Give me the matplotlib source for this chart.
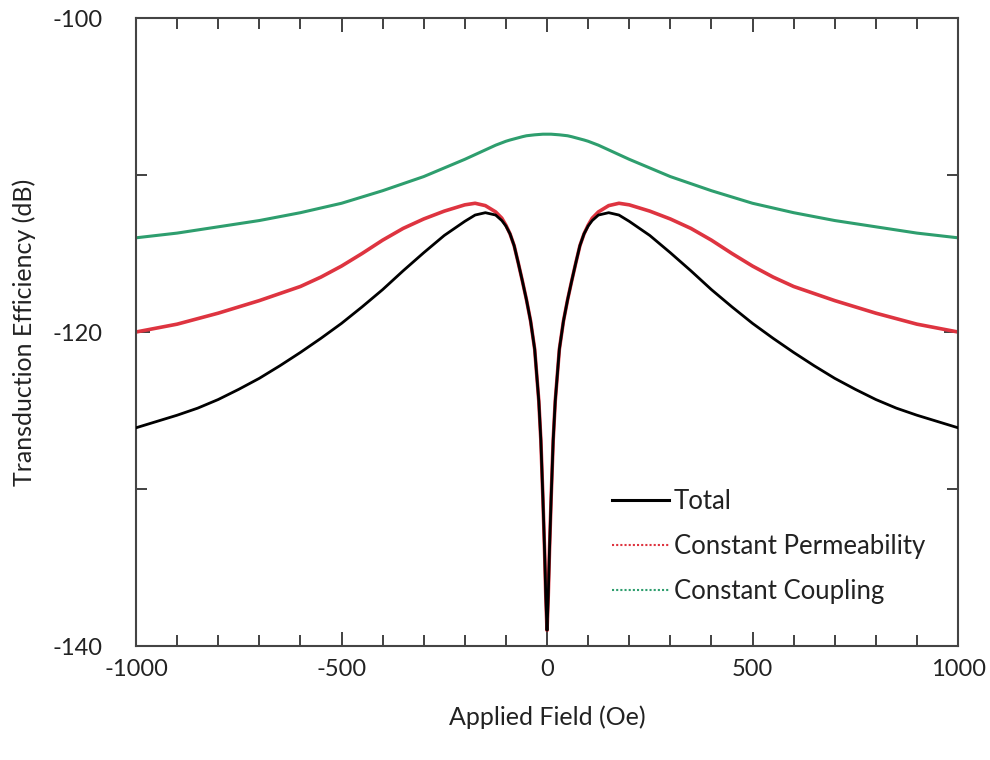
import matplotlib
matplotlib.use("Agg")
import matplotlib.pyplot as plt
from matplotlib.lines import Line2D
from matplotlib.ticker import MultipleLocator

plt.rcParams['font.family'] = ['Lato', 'DejaVu Sans']
plt.rcParams['axes.unicode_minus'] = False

# Applied field (Oe): negative half, mirrored about 0
half_x = [-1000, -950, -900, -850, -800, -750, -700, -650, -600, -550, -500, -450,
          -400, -350, -300, -250, -200,
          -175, -150, -125, -110, -100, -90, -80, -70, -60, -50, -40, -30, -20,
          -15, -10, -6, -3]
field = half_x + [0] + [-v for v in half_x[::-1]]

total_half = [-126.1, -125.7, -125.3, -124.85, -124.3, -123.65, -122.95, -122.15,
              -121.3, -120.4, -119.45, -118.4, -117.3, -116.1, -114.95, -113.85, -112.95,
              -112.55, -112.4, -112.55, -112.9, -113.25, -113.75, -114.5, -115.6, -116.75,
              -117.95, -119.3, -121.1, -124.4, -126.9, -130.6, -133.9, -136.8]
total = total_half + [-139.0] + total_half[::-1]

perm_half = [-120.0, -119.75, -119.5, -119.15, -118.8, -118.4, -118.0, -117.55,
             -117.1, -116.5, -115.8, -115.0, -114.15, -113.4, -112.8, -112.3, -111.9,
             -111.8, -111.95, -112.35, -112.75, -113.2, -113.75, -114.5, -115.6, -116.75,
             -117.95, -119.3, -121.1, -124.4, -126.9, -130.6, -133.9, -136.8]
perm = perm_half + [-139.0] + perm_half[::-1]

coup_half = [-114.0, -113.85, -113.7, -113.5, -113.3, -113.1, -112.9, -112.65,
             -112.4, -112.1, -111.8, -111.4, -111.0, -110.55, -110.1, -109.55, -109.0,
             -108.7, -108.4, -108.1, -107.95, -107.85, -107.77, -107.7, -107.63, -107.56,
             -107.5, -107.47, -107.44, -107.42, -107.41, -107.4, -107.4, -107.4]
coup = coup_half + [-107.4] + coup_half[::-1]

labels = ["Total", "Constant Permeability", "Constant Coupling"]
colors = ["#000000", "#de3440", "#2e9e6e"]

fig = plt.figure(figsize=(9.9, 7.6), dpi=100)
ax = fig.add_axes([0.1374, 0.15, 0.9677 - 0.1374, 0.9763 - 0.15])

ax.plot(field, perm, color=colors[1], lw=2.6, zorder=2, solid_joinstyle='round')
ax.plot(field, total, color=colors[0], lw=2.0, zorder=3, solid_joinstyle='round')
ax.plot(field, coup, color=colors[2], lw=2.2, zorder=2, solid_joinstyle='round')

ax.set_xlim(-1000, 1000)
ax.set_ylim(-140, -100)
ax.xaxis.set_major_locator(MultipleLocator(500))
ax.xaxis.set_minor_locator(MultipleLocator(100))
ax.yaxis.set_major_locator(MultipleLocator(20))
ax.yaxis.set_minor_locator(MultipleLocator(10))
ax.tick_params(which='both', direction='in', top=True, right=True,
               color='#333333', width=1.3)
ax.tick_params(which='major', length=10)
ax.tick_params(which='minor', length=8)
ax.tick_params(axis='x', which='major', labelsize=17, pad=9, labelcolor='#222222')
ax.tick_params(axis='y', which='major', labelsize=17, pad=24, labelcolor='#222222')
for s in ax.spines.values():
    s.set_color('#444444')
    s.set_linewidth(1.5)

ax.set_xlabel("Applied Field (Oe)", fontsize=18, labelpad=19, color='#222222')
ax.set_ylabel("Transduction Efficiency (dB)", fontsize=18, labelpad=12, color='#222222')

handles = [Line2D([], [], color=colors[0], lw=2.2),
           Line2D([], [], color=colors[1], lw=1.5, ls=(0, (1, 1))),
           Line2D([], [], color=colors[2], lw=1.5, ls=(0, (1, 1)))]
leg = ax.legend(handles, labels, loc='upper left', bbox_to_anchor=(0.567, 0.267),
                frameon=False, fontsize=18.5, handlelength=2.2, handletextpad=0.2,
                labelspacing=0.78, borderaxespad=0)
for t in leg.get_texts():
    t.set_color('#222222')

fig.savefig("out.png", dpi=100, facecolor='white')
